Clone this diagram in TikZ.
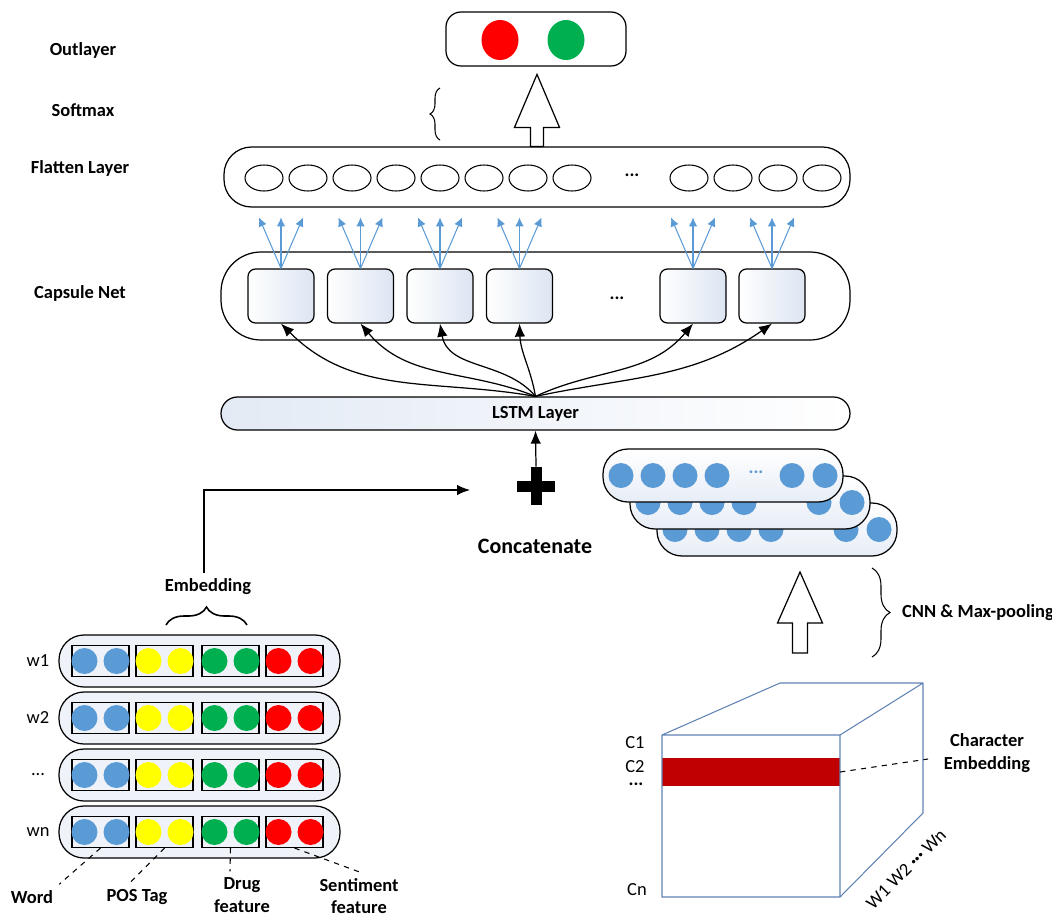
\documentclass[tikz,border=0pt]{standalone}
\usepackage{fontspec}
\setmainfont{Carlito}
\usetikzlibrary{arrows.meta,calc,decorations.pathreplacing,shapes.geometric}

\definecolor{capblue}{HTML}{5B9BD5}
\definecolor{capyellow}{HTML}{FFFF00}
\definecolor{capgreen}{HTML}{00B050}
\definecolor{capred}{HTML}{FF0000}
\definecolor{cubeblue}{HTML}{5F82B5}
\definecolor{bandred}{HTML}{C00000}
\definecolor{paleblue}{HTML}{DCE5F2}

\newcommand\rowdots{...}

\tikzset{
  lbl/.style={font=\fontsize{10.5}{13}\selectfont\bfseries},
  plain/.style={font=\fontsize{10.5}{13}\selectfont},
  box/.style={draw, line width=0.7pt, inner sep=0pt},
  dot/.style={ellipse, inner sep=0pt, minimum width=0.74cm, minimum height=0.8cm},
  cell/.style={draw, ellipse, inner sep=0pt, line width=0.6pt, minimum width=0.76cm, minimum height=0.52cm},
  capsule/.style={box, rounded corners=0.15cm, minimum width=1.32cm, minimum height=1.08cm, left color=white, right color=paleblue},
  charrow/.style={box, rounded corners=0.5cm, minimum width=4.8cm, minimum height=1.06cm, top color=white, bottom color=paleblue!70},
  wordrow/.style={box, rounded corners=0.5cm, minimum width=5.62cm, minimum height=1.04cm, fill=paleblue!45},
  featbox/.style={draw, line width=0.6pt, minimum width=1.14cm, minimum height=0.62cm, inner sep=0pt},
  route/.style={-{Latex[length=2.6mm,width=2.1mm]}, line width=0.7pt},
  fan/.style={-{Latex[length=1.8mm,width=1.7mm]}, capblue, line width=0.6pt},
  hollow/.style={draw, fill=white, line width=0.7pt},
  guide/.style={dashed, line width=0.6pt}
}

\begin{document}
\begin{tikzpicture}[x=0.2cm, y=0.2cm]
  \useasboundingbox (0,0) rectangle (105.2,-91.3);

  % layer names
  \node[lbl] at (8.3,-5.0) {Outlayer};
  \node[lbl] at (8.3,-11.0) {Softmax};
  \node[lbl] at (8.0,-16.8) {Flatten Layer};
  \node[lbl] at (8.0,-29.3) {Capsule Net};

  % output layer
  \node[box, minimum width=3.6cm, minimum height=1.08cm, rounded corners=0.3cm] (out) at (53.6,-3.9) {};
  \node[dot, fill=capred] (o1) at (50.0,-4.0) {};
  \node[dot, fill=capgreen] (o2) at (56.6,-4.0) {};

  % flatten layer
  \node[box, minimum width=12.52cm, minimum height=1.2cm, rounded corners=0.55cm] (flat) at (53.7,-17.7) {};
  \foreach \x [count=\i] in {26.4,30.8,35.2,39.6,44.0,48.4,52.8,57.2,68.9,73.3,77.8,82.2}
    \node[cell] (f\i) at (\x,-17.8) {};
  \node[lbl] at (63.2,-17.5) {...};

  % softmax
  \draw[hollow] (flat.north) ++(-0.65,0) -- ++(0,1.9) -- ++(-1.6,0) -- ++(2.25,5.3)
    -- ++(2.25,-5.3) -- ++(-1.6,0) -- ++(0,-1.9) -- cycle;
  \draw[decorate, decoration={brace, amplitude=0.2cm}, line width=0.6pt] (44.0,-14.0) -- (44.0,-8.8);

  % capsule net
  \node[box, minimum width=12.58cm, minimum height=1.76cm, rounded corners=0.8cm] (caps) at (53.55,-29.6) {};
  \foreach \x [count=\i] in {28.1,36.05,44.0,51.95,69.3,77.2}{
    \node[capsule] (c\i) at (\x,-29.6) {};
    \draw[fan] (c\i.north) -- ++(-2.2,5.1);
    \draw[fan] (c\i.north) -- ++(0,5.1);
    \draw[fan] (c\i.north) -- ++(2.2,5.1);
  }
  \node[lbl] at (61.7,-29.8) {...};

  % lstm
  \node[box, minimum width=12.58cm, minimum height=0.66cm, rounded corners=0.33cm,
        left color=paleblue!80, right color=white] (lstm) at (53.55,-41.35) {};
  \node[lbl] at (lstm) {LSTM Layer};
  \draw[route] (lstm.north) to[out=170,in=-45] (c1.south);
  \draw[route] (lstm.north) to[out=158,in=-50] (c2.south);
  \draw[route] (lstm.north) to[out=130,in=-80] (c3.south);
  \draw[route] (lstm.north) to[out=100,in=-88] (c4.south);
  \draw[route] (lstm.north) to[out=25,in=-130] (c5.south);
  \draw[route] (lstm.north) to[out=12,in=-145] (c6.south);

  % concatenate
  \node[minimum size=0.76cm, inner sep=0pt] (plus) at (53.6,-48.6) {};
  \fill ($(plus.center)+(-1.9,-0.55)$) rectangle ++(3.8,1.1);
  \fill ($(plus.center)+(-0.55,-1.9)$) rectangle ++(1.1,3.8);
  \draw[route] (plus.north) -- (lstm.south);
  \node[lbl, font=\fontsize{12.5}{15}\selectfont\bfseries] (concat) at (53.5,-54.6) {Concatenate};

  % character level vectors
  \foreach \k/\d in {3/5.4,2/2.7,1/0}{
    \node[charrow] (ch\k) at ({72.3+\d},{-47.55-\d}) {};
    \foreach \dx in {-10.2,-7.0,-3.8,-0.6,6.9,10.2}
      \fill[capblue] ($(ch\k)+(\dx,0)$) circle (0.25cm);
  }
  \node[lbl, text=capblue] at ($(ch1)+(3.3,0.3)$) {...};

  % cnn
  \coordinate (cnnbase) at (80.0,-65.3);
  \draw[hollow] (cnnbase) ++(-0.75,0) -- ++(0,3.0) -- ++(-1.5,0) -- ++(2.25,5.1)
    -- ++(2.25,-5.1) -- ++(-1.5,0) -- ++(0,-3.0) -- cycle;
  \draw[decorate, decoration={brace, amplitude=0.36cm}, line width=0.6pt] (87.2,-56.8) -- (87.2,-65.7);
  \node[lbl, anchor=west] at (89.6,-61.3) {CNN \& Max-pooling};

  % cube
  \fill[bandred] (66.2,-75.8) rectangle (84.0,-78.6);
  \draw[cubeblue, line width=0.6pt, line join=round]
    (66.2,-73.5) rectangle (84.0,-89.7)
    (66.2,-73.5) -- (78.0,-68.3) -- (92.3,-68.3) -- (84.0,-73.5)
    (92.3,-68.3) -- (92.3,-81.3) -- (84.0,-89.7);
  \draw[guide] (84.0,-77.2) -- (92.8,-75.9);
  \node[lbl, align=center] at (98.7,-75.3) {Character\\Embedding};
  \node[plain] at (63.5,-74.3) {C1};
  \node[plain] at (63.5,-76.7) {C2};
  \node[lbl] at (63.6,-78.4) {...};
  \node[plain] at (63.7,-89.0) {Cn};
  \node[plain, rotate=45] at (90.6,-86.9) {W1 W2 \textbf{\textperiodcentered\textperiodcentered\textperiodcentered} Wn};

  % word level features
  \foreach \r/\y/\w in {1/-66.1/w1,2/-71.8/w2,3/-77.5/\rowdots,4/-83.2/wn}{
    \node[wordrow] (row\r) at (19.95,\y) {};
    \node[plain] at (3.8,\y) {\w};
    \foreach \cx/\col [count=\c] in {10.05/capblue,16.45/capyellow,23.05/capgreen,29.45/capred}{
      \node[featbox] (r\r-\c) at (\cx,\y) {};
      \fill[\col] (\cx-1.6,\y) circle (0.26cm);
      \fill[\col] (\cx+1.6,\y) circle (0.26cm);
    }
  }
  \draw[decorate, decoration={brace, amplitude=0.36cm}, line width=0.9pt] (16.6,-62.5) -- (24.7,-62.5);
  \node[lbl] (emb) at (20.8,-58.7) {Embedding};
  \coordinate (catin) at (47.0,-49.0);
  \draw[route] (emb.north) ++(-0.4,0) |- (catin);

  % feature names
  \node[lbl] (word) at (3.2,-89.7) {Word};
  \node[lbl] (pos) at (13.7,-89.7) {POS Tag};
  \node[lbl, align=center] (drug) at (24.2,-89.5) {Drug\\feature};
  \node[lbl, align=center] (sent) at (35.9,-89.6) {Sentiment\\feature};
  \draw[guide] (r4-1.south) -- (word.north east);
  \draw[guide] (r4-2.south) -- ([xshift=-0.15cm]pos.north);
  \draw[guide] (r4-3.south) -- ([xshift=-0.24cm]drug.north);
  \draw[guide] (r4-4.south) -- (sent.north);

\end{tikzpicture}
\end{document}
